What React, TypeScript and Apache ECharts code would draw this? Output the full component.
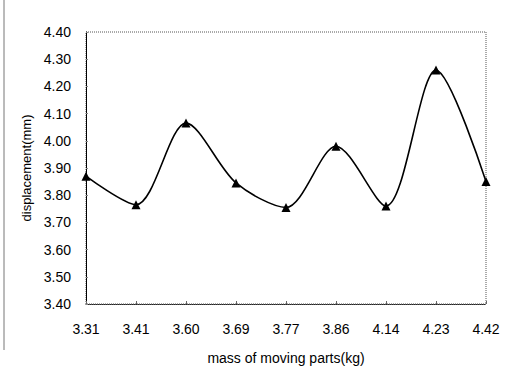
import React, { useEffect, useRef } from "react";
import * as echarts from "echarts";

const categories = ["3.31", "3.41", "3.60", "3.69", "3.77", "3.86", "4.14", "4.23", "4.42"];
const displacement = [3.87, 3.765, 4.065, 3.845, 3.755, 3.98, 3.76, 4.26, 3.85];
const yMin = 3.4;
const yMax = 4.4;
const yStep = 0.1;

const FONT = "'Liberation Sans', Arial, sans-serif";

export default function App() {
  const ref = useRef<HTMLDivElement>(null);
  useEffect(() => {
    if (!ref.current) return;
    const chart = echarts.init(ref.current, null, { renderer: "svg" });
    chart.setOption({
      animation: false,
      backgroundColor: "#ffffff",
      textStyle: { fontFamily: FONT },
      grid: {
        left: 86,
        right: 26,
        top: 32,
        bottom: 86,
        show: true,
        borderColor: "#555",
        borderWidth: 1,
        borderType: "dotted",
      },
      graphic: [
        {
          type: "line",
          shape: { x1: 4, y1: 0, x2: 4, y2: 350 },
          style: { stroke: "#777", lineWidth: 1 },
        },
      ],
      xAxis: {
        type: "category",
        data: categories,
        boundaryGap: false,
        name: "mass of moving parts(kg)",
        nameLocation: "middle",
        nameGap: 47,
        nameTextStyle: { fontSize: 14, color: "#000", fontFamily: FONT },
        axisLine: { lineStyle: { color: "#222", width: 1, type: "dotted" } },
        axisTick: { show: true, inside: true, length: 3, lineStyle: { color: "#666" } },
        axisLabel: { fontSize: 14, color: "#000", margin: 18, fontFamily: FONT },
        splitLine: { show: false },
      },
      yAxis: {
        type: "value",
        min: yMin,
        max: yMax,
        interval: yStep,
        name: "displacement(mm)",
        nameLocation: "middle",
        nameGap: 53,
        nameTextStyle: { fontSize: 13, color: "#000", fontFamily: FONT },
        axisLine: { show: true, lineStyle: { color: "#000", width: 1 } },
        axisTick: { show: true, inside: true, length: 2, lineStyle: { color: "#888" } },
        axisLabel: {
          fontSize: 14,
          color: "#000",
          margin: 15,
          fontFamily: FONT,
          formatter: (v: number) => v.toFixed(2),
        },
        splitLine: { show: false },
      },
      series: [
        {
          type: "line",
          data: displacement,
          smooth: 0.3,
          symbol: "triangle",
          symbolSize: 9,
          itemStyle: { color: "#000" },
          lineStyle: { color: "#000", width: 1.6 },
        },
      ],
    });
    return () => chart.dispose();
  }, []);
  return (
    <div
      ref={ref}
      style={{ position: "absolute", left: 0, top: 0, width: 512, height: 390 }}
    />
  );
}
